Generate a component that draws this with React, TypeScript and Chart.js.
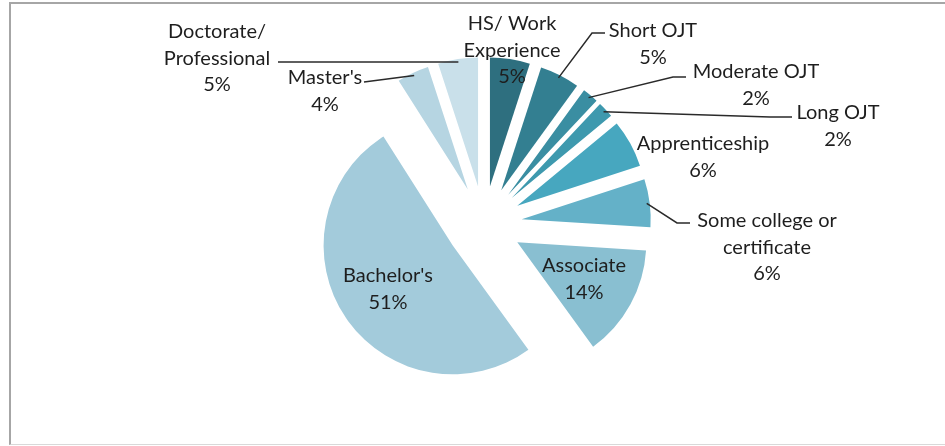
import React, { useEffect, useRef } from "react";
import { Chart, registerables } from "chart.js";

Chart.register(...registerables);

// ---- data ----
const categories = [
  "HS/ Work\nExperience",
  "Short OJT",
  "Moderate OJT",
  "Long OJT",
  "Apprenticeship",
  "Some college or\ncertificate",
  "Associate",
  "Bachelor's",
  "Master's",
  "Doctorate/\nProfessional",
];
const shares = [5, 5, 2, 2, 6, 6, 14, 51, 4, 5];
const sliceColors = [
  "#2e6f7f",
  "#337f91",
  "#3a8ea2",
  "#3e99ae",
  "#47a7bf",
  "#64b1c8",
  "#89bfd1",
  "#a3cbdb",
  "#b6d5e2",
  "#c9e0ea",
];

// ---- label layout (text centre x, first line centre y, leader knee points) ----
type Layout = { x: number; y: number; leader: number[][] | null };
const labelLayout: Layout[] = [
  { x: 512, y: 23, leader: null },
  { x: 653, y: 30, leader: [[605, 33], [592, 33]] },
  { x: 756, y: 71, leader: [[686, 77], [673, 77]] },
  { x: 838, y: 112, leader: [[792, 117], [770, 117]] },
  { x: 703, y: 143, leader: null },
  { x: 767, y: 220, leader: [[690, 223], [677, 223]] },
  { x: 584, y: 265, leader: null },
  { x: 388, y: 275, leader: null },
  { x: 325, y: 77, leader: [[364, 82]] },
  { x: 217, y: 31, leader: [[278, 62]] },
];

const EXPLODE = 38;
const FONT_SIZE = 20;
const LINE_H = 26.5;

const explodePlugin = {
  id: "explode",
  beforeDatasetDraw(chart: any) {
    const meta = chart.getDatasetMeta(0);
    const { left, right, top, bottom } = chart.chartArea;
    const cx = (left + right) / 2;
    const cy = (top + bottom) / 2;
    meta.data.forEach((arc: any) => {
      const mid = (arc.startAngle + arc.endAngle) / 2;
      arc.x = cx + Math.cos(mid) * EXPLODE;
      arc.y = cy + Math.sin(mid) * EXPLODE;
    });
  },
};

const labelPlugin = {
  id: "sliceLabels",
  afterDraw(chart: any) {
    const ctx = chart.ctx as CanvasRenderingContext2D;
    const meta = chart.getDatasetMeta(0);
    ctx.save();
    ctx.font = `${FONT_SIZE}px Lato`;
    ctx.fillStyle = "#1e1e1e";
    ctx.textAlign = "center";
    ctx.textBaseline = "middle";
    ctx.strokeStyle = "#2a2a2a";
    ctx.lineWidth = 1.5;
    meta.data.forEach((arc: any, i: number) => {
      const L = labelLayout[i];
      const lines = [...categories[i].split("\n"), `${shares[i]}%`];
      lines.forEach((t, k) => ctx.fillText(t, L.x, L.y + k * LINE_H + 1));
      if (L.leader) {
        const mid = (arc.startAngle + arc.endAngle) / 2;
        const r = arc.outerRadius - 3;
        const ex = arc.x + Math.cos(mid) * r;
        const ey = arc.y + Math.sin(mid) * r;
        ctx.beginPath();
        ctx.moveTo(L.leader[0][0], L.leader[0][1]);
        for (let k = 1; k < L.leader.length; k++) ctx.lineTo(L.leader[k][0], L.leader[k][1]);
        ctx.lineTo(ex, ey);
        ctx.stroke();
      }
    });
    ctx.restore();
  },
};

export default function App() {
  const ref = useRef<HTMLCanvasElement | null>(null);
  useEffect(() => {
    if (!ref.current) return;
    const chart = new Chart(ref.current, {
      type: "pie",
      data: {
        labels: categories,
        datasets: [
          {
            data: shares,
            backgroundColor: sliceColors,
            borderWidth: 0,
          },
        ],
      },
      options: {
        responsive: false,
        animation: false,
        events: [],
        layout: { padding: { left: 334, right: 311, top: 95, bottom: 93 } },
        plugins: {
          legend: { display: false },
          tooltip: { enabled: false },
        },
      },
      plugins: [explodePlugin, labelPlugin],
    } as any);
    return () => chart.destroy();
  }, []);

  return (
    <div
      style={{
        position: "fixed",
        left: 0,
        top: 0,
        width: 945,
        height: 446,
        background: "#ffffff",
        overflow: "hidden",
      }}
    >
      <div
        style={{
          position: "absolute",
          left: 9,
          top: 2,
          width: 950,
          height: 440,
          borderTop: "2px solid #a6a6a6",
          borderLeft: "2px solid #a6a6a6",
          borderBottom: "1px solid #d9d9d9",
        }}
      />
      <canvas
        ref={ref}
        width={945}
        height={446}
        style={{ position: "absolute", left: 0, top: 0, display: "block" }}
      />
    </div>
  );
}
